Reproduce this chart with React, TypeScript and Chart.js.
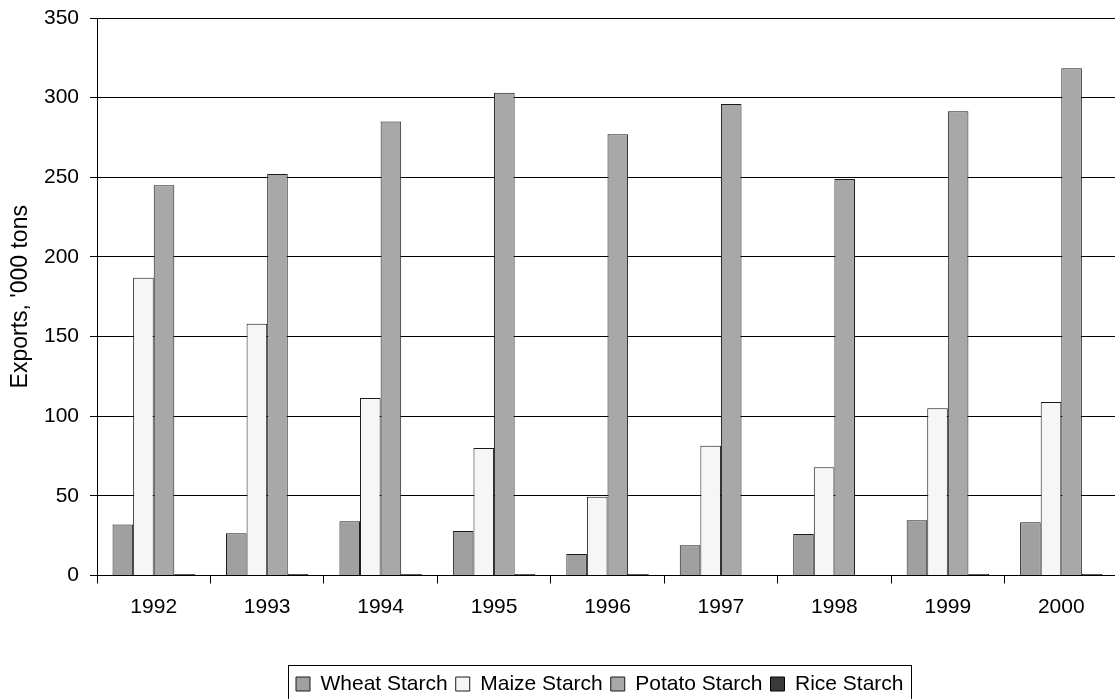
import React, { useEffect, useRef } from "react";
import { Chart, registerables } from "chart.js";

Chart.register(...registerables);

const categories = ["1992", "1993", "1994", "1995", "1996", "1997", "1998", "1999", "2000"];
const wheatStarch = [32, 26.5, 34, 28, 13.5, 19, 26, 34.7, 33.5];
const maizeStarch = [187, 158, 111.5, 80, 49.5, 81.5, 68, 105, 109];
const potatoStarch = [245, 252, 285, 303, 277, 296, 249, 291.5, 318.5];
const riceStarch = [1, 1, 1, 1, 1, 0, 0, 1, 1];
const yTicks = [0, 50, 100, 150, 200, 250, 300, 350];

const FONT = "'Liberation Sans', Arial, sans-serif";
const LEGEND_H = 33.5;
const LEGEND_FIRST_BOX = 296;

const legendTweak = {
  id: "legendTweak",
  beforeUpdate(chart: any) {
    const lg = chart.legend;
    if (lg && !lg.__patched) {
      const origFit = lg.fit.bind(lg);
      lg.fit = function () {
        origFit();
        this.height = LEGEND_H;
      };
      lg.__patched = true;
    }
  },
  afterUpdate(chart: any) {
    const lg = chart.legend;
    if (!lg || !lg.legendHitBoxes || !lg.legendHitBoxes.length) return;
    const hb = lg.legendHitBoxes;
    const shift = LEGEND_FIRST_BOX - hb[0].left;
    lg.left += shift;
    lg.right += shift;
    for (const h of hb) h.left += shift;
  },
  afterDraw(chart: any) {
    const lg = chart.legend;
    if (!lg || !lg.legendHitBoxes || !lg.legendHitBoxes.length) return;
    const hb = lg.legendHitBoxes;
    const first = hb[0];
    const last = hb[hb.length - 1];
    const ctx = chart.ctx;
    ctx.save();
    ctx.strokeStyle = "#000";
    ctx.lineWidth = 1;
    const l = Math.round(first.left - 8) + 0.5;
    const r = Math.round(last.left + last.width + 7) + 0.5;
    const t = Math.round(lg.top) - 0.5;
    const b = chart.height + 5;
    ctx.strokeRect(l, t, r - l, b - t);
    ctx.restore();
  },
};

export default function App() {
  const ref = useRef<HTMLCanvasElement | null>(null);

  useEffect(() => {
    if (!ref.current) return;
    const border = "#1a1a1a";
    const chart = new Chart(ref.current, {
      type: "bar",
      data: {
        labels: categories,
        datasets: [
          { label: "Wheat Starch", data: wheatStarch, backgroundColor: "#a0a0a0", borderColor: border, borderWidth: 1 },
          { label: "Maize Starch", data: maizeStarch, backgroundColor: "#f6f6f6", borderColor: border, borderWidth: 1 },
          { label: "Potato Starch", data: potatoStarch, backgroundColor: "#a8a8a8", borderColor: border, borderWidth: 1 },
          { label: "Rice Starch", data: riceStarch, backgroundColor: "#3a3a3a", borderColor: "#000", borderWidth: 1 },
        ],
      },
      options: {
        responsive: false,
        animation: false,
        events: [],
        datasets: { bar: { categoryPercentage: 0.726, barPercentage: 1 } },
        layout: { padding: { left: 0, right: 4, top: 18, bottom: 0 } },
        plugins: {
          tooltip: { enabled: false },
          legend: {
            display: true,
            position: "bottom",
            labels: {
              font: { family: FONT, size: 21 },
              color: "#000",
              boxWidth: 14,
              boxHeight: 14,
              padding: 8,
            },
          },
        },
        scales: {
          x: {
            offset: true,
            grid: { display: true, drawOnChartArea: false, drawTicks: true, tickLength: 8, color: "#000", offset: true },
            border: { display: true, color: "#000", width: 1 },
            ticks: { font: { family: FONT, size: 21 }, color: "#000", padding: 11, maxRotation: 0 },
            afterFit: (s: any) => {
              s.height = 90;
              s.paddingLeft = 0;
              s.paddingRight = 0;
            },
          },
          y: {
            min: 0,
            max: 350,
            afterBuildTicks: (s: any) => {
              s.ticks = yTicks.map((v) => ({ value: v }));
            },
            grid: { color: "#000", lineWidth: 1, tickLength: 7, drawTicks: true },
            border: { display: true, color: "#000", width: 1 },
            ticks: { font: { family: FONT, size: 21 }, color: "#000", padding: 11 },
            title: {
              display: true,
              text: "Exports, '000 tons",
              font: { family: FONT, size: 23 },
              color: "#000",
              padding: { top: 7, bottom: 0 },
            },
            afterFit: (s: any) => {
              s.width = 97;
              s.paddingTop = 0;
              s.paddingBottom = 0;
            },
          },
        },
      },
      plugins: [legendTweak],
    });
    return () => chart.destroy();
  }, []);

  return (
    <div
      style={{
        position: "fixed",
        left: 0,
        top: 0,
        width: 1115,
        height: 699,
        overflow: "hidden",
        background: "#fff",
      }}
    >
      <canvas ref={ref} width={1122} height={699} style={{ display: "block", width: 1122, height: 699 }} />
    </div>
  );
}
